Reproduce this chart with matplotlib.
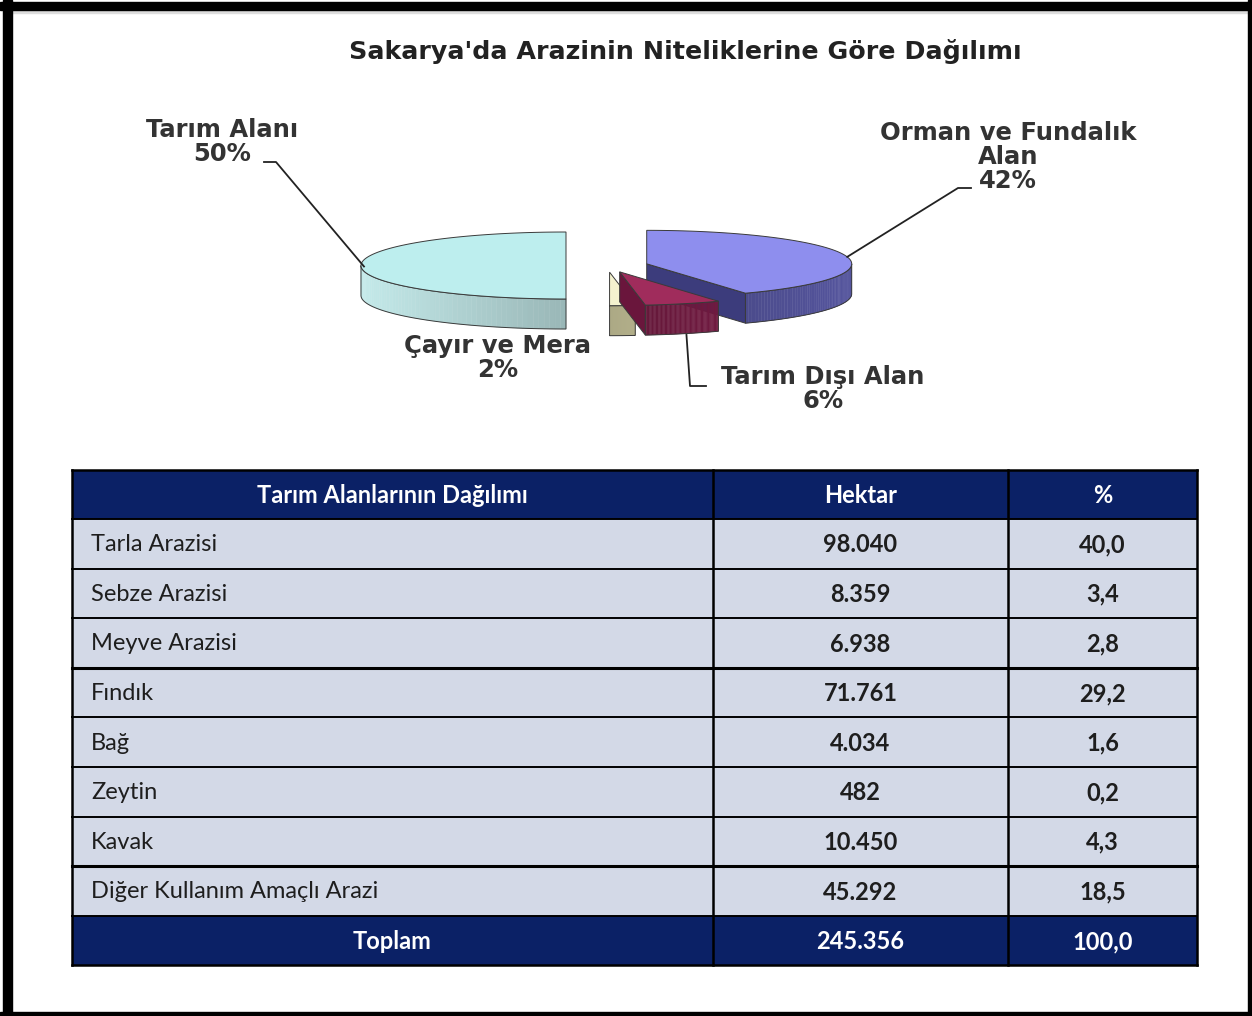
import numpy as np
import matplotlib
matplotlib.use("Agg")
import matplotlib.pyplot as plt
from matplotlib.patches import Polygon, Rectangle

# ---------------- data ----------------
title = "Sakarya'da Arazinin Niteliklerine Göre Dağılımı"
pie_labels = ["Orman ve Fundalık\nAlan", "Tarım Dışı Alan", "Çayır ve Mera", "Tarım Alanı"]
pie_values = [42, 6, 2, 50]

table_header = ["Tarım Alanlarının Dağılımı", "Hektar", "%"]
categories = ["Tarla Arazisi", "Sebze Arazisi", "Meyve Arazisi", "Fındık", "Bağ",
              "Zeytin", "Kavak", "Diğer Kullanım Amaçlı Arazi"]
hectares = [98040, 8359, 6938, 71761, 4034, 482, 10450, 45292]
percents = [40.0, 3.4, 2.8, 29.2, 1.6, 0.2, 4.3, 18.5]
total_label = "Toplam"
total_hectare = 245356
total_percent = 100.0

# ---------------- styles ----------------
top_colors = ["#8e8eee", "#a02c5c", "#f4f2cf", "#bdeeee"]
side_colors = ["#55559e", "#7e1d48", "#dcd8aa", "#c4eaea"]
wall_colors = ["#3c3c7c", "#6a163c", "#c8c498", "#9ccccc"]
edge_col = "#3a3a3a"
navy = "#0b2166"
row_fill = "#d3d9e7"

W, H = 1252, 1016
fig = plt.figure(figsize=(W / 100, H / 100), dpi=100)
ax = fig.add_axes([0, 0, 1, 1])
ax.set_xlim(0, W)
ax.set_ylim(H, 0)
ax.axis("off")

# outer black frame
ax.add_patch(Rectangle((0, 2), W, 8, color="black", zorder=10))
ax.add_patch(Rectangle((3, 0), 9, H, color="black", zorder=10))
ax.add_patch(Rectangle((1248, 0), 4, H, color="black", zorder=10))
ax.add_patch(Rectangle((0, 1012), W, 4, color="black", zorder=10))
ax.add_patch(Rectangle((12, 10), 1236, 3, color="#dddddd", zorder=9))

# title
ax.text(685, 52, title, ha="center", va="center", fontsize=18.3,
        fontweight="bold", color="#222222", family="DejaVu Sans")

# ---------------- 3D pie ----------------
A, B, D = 205, 33.5, 30      # semi-axes and depth (px)
CX, CY = 607, 265.5          # pie centre
E = 0.2                      # explode fraction


def pt(cx, cy, th):
    t = np.radians(th)
    return cx + A * np.cos(t), cy - B * np.sin(t)


def shade(col, f):
    c = np.array(matplotlib.colors.to_rgb(col))
    return tuple(np.clip(c * f, 0, 1))


slices = []
start = 90.0
for i, v in enumerate(pie_values):
    hi = start
    lo = start - v * 3.6
    start = lo
    mid = np.radians((hi + lo) / 2)
    cx = CX + E * A * np.cos(mid)
    cy = CY - E * B * np.sin(mid)
    slices.append((i, lo, hi, cx, cy))

draw_order = [3, 0, 2, 1]
geom = {}
for i in draw_order:
    _, lo, hi, cx, cy = slices[i]
    geom[i] = (lo, hi, cx, cy)
    z = 2 + draw_order.index(i)
    # radial walls
    for th, normal in ((lo, lo - 90), (hi, hi + 90)):
        if np.sin(np.radians(normal)) < -1e-3:
            x1, y1 = pt(cx, cy, th)
            poly = [(cx, cy), (x1, y1), (x1, y1 + D), (cx, cy + D)]
            ax.add_patch(Polygon(poly, closed=True, facecolor=wall_colors[i],
                                 edgecolor=edge_col, lw=0.7, zorder=z))
    # outer wall (front-facing part)
    for k in (-1, 0, 1):
        a0 = max(lo, -180 + 360 * k)
        a1 = min(hi, 0 + 360 * k)
        if a1 - a0 > 0.01:
            ths = np.linspace(a0, a1, 60)
            for t0, t1 in zip(ths[:-1], ths[1:]):
                tm = np.radians((t0 + t1) / 2)
                f = 0.78 + 0.22 * abs(np.cos(tm))
                p0 = pt(cx, cy, t0)
                p1 = pt(cx, cy, t1)
                quad = [p0, p1, (p1[0], p1[1] + D), (p0[0], p0[1] + D)]
                ax.add_patch(Polygon(quad, closed=True, facecolor=shade(side_colors[i], f),
                                     edgecolor=shade(side_colors[i], f), lw=0.3, zorder=z))
            xs = [pt(cx, cy, t)[0] for t in ths]
            ys = [pt(cx, cy, t)[1] for t in ths]
            outline = list(zip(xs, ys)) + list(zip(xs[::-1], [y + D for y in ys[::-1]]))
            ax.add_patch(Polygon(outline, closed=True, fill=False,
                                 edgecolor=edge_col, lw=0.7, zorder=z))
    # top face
    ths = np.linspace(lo, hi, 120)
    poly = [(cx, cy)] + [pt(cx, cy, t) for t in ths]
    ax.add_patch(Polygon(poly, closed=True, facecolor=top_colors[i],
                         edgecolor=edge_col, lw=0.7, zorder=z + 0.5))

lab_kw = dict(ha="center", va="center", fontsize=17.5, fontweight="bold",
              color="#333333", family="DejaVu Sans", linespacing=0.98)
pct = [f"{v}%" for v in pie_values]

# Tarım Alanı
lo, hi, cx, cy = geom[3]
ax.text(222, 142, f"{pie_labels[3]}\n{pct[3]}", **lab_kw)
ex, ey = pt(cx, cy, 180)
ax.plot([264, 276, ex + 3, ], [162, 162, ey + 1], color="#222222", lw=1.3, zorder=20)

# Orman
lo, hi, cx, cy = geom[0]
ax.text(1008, 157, f"{pie_labels[0]}\n{pct[0]}", **lab_kw)
ex, ey = pt(cx, cy, 12)
ax.plot([971, 958, ex], [188, 188, ey], color="#222222", lw=1.3, zorder=20)

# Tarım Dışı
lo, hi, cx, cy = geom[1]
ax.text(823, 389, f"{pie_labels[1]}\n{pct[1]}", **lab_kw)
ex, ey = pt(cx, cy, -68)
ax.plot([ex - 10, 690, 706], [ey + D + 2, 386, 386], color="#222222", lw=1.3, zorder=20)

# Çayır
ax.text(498, 358, f"{pie_labels[2]}\n{pct[2]}", **lab_kw)

# ---------------- table ----------------
col_edges = [72, 713, 1008, 1197]
top = 470
header_h = 49
row_h = 49.6
tfont = "Lato"
fs = 17


def fmt_int(v):
    return f"{v:,}".replace(",", ".")


def fmt_pct(v):
    return f"{v:.1f}".replace(".", ",")


# header
ax.add_patch(Rectangle((col_edges[0], top), col_edges[-1] - col_edges[0], header_h,
                       facecolor=navy, edgecolor="none", zorder=3))
for j, h in enumerate(table_header):
    xc = (col_edges[j] + col_edges[j + 1]) / 2
    ax.text(xc, top + header_h / 2 + 1, h, ha="center", va="center", fontsize=fs,
            fontweight="bold", color="white", family=tfont, zorder=5)

y0 = top + header_h
for r, (c, hv, pv) in enumerate(zip(categories, hectares, percents)):
    y = y0 + r * row_h
    ax.add_patch(Rectangle((col_edges[0], y), col_edges[-1] - col_edges[0], row_h,
                           facecolor=row_fill, edgecolor="none", zorder=3))
    yc = y + row_h / 2 + 1
    ax.text(col_edges[0] + 19, yc, c, ha="left", va="center", fontsize=fs,
            color="#1e1e1e", family=tfont, zorder=5)
    ax.text((col_edges[1] + col_edges[2]) / 2, yc, fmt_int(hv), ha="center", va="center",
            fontsize=fs, fontweight="bold", color="#1e1e1e", family=tfont, zorder=5)
    ax.text((col_edges[2] + col_edges[3]) / 2, yc, fmt_pct(pv), ha="center", va="center",
            fontsize=fs, fontweight="bold", color="#1e1e1e", family=tfont, zorder=5)

yt = y0 + len(categories) * row_h
ax.add_patch(Rectangle((col_edges[0], yt), col_edges[-1] - col_edges[0], row_h,
                       facecolor=navy, edgecolor="none", zorder=3))
for j, s in enumerate([total_label, fmt_int(total_hectare), fmt_pct(total_percent)]):
    xc = (col_edges[j] + col_edges[j + 1]) / 2
    ax.text(xc, yt + row_h / 2 + 1, s, ha="center", va="center", fontsize=fs,
            fontweight="bold", color="white", family=tfont, zorder=5)

bottom = yt + row_h
# horizontal lines
for r in range(len(categories) + 1):
    y = y0 + r * row_h
    lw = 2.2 if r in (3, 7) else 1.4
    ax.plot([col_edges[0], col_edges[-1]], [y, y], color="black", lw=lw, zorder=6)
# vertical lines
for x in col_edges:
    ax.plot([x, x], [top, bottom], color="black", lw=1.8, zorder=6)
ax.plot([col_edges[0], col_edges[-1]], [top, top], color="black", lw=1.8, zorder=6)
ax.plot([col_edges[0], col_edges[-1]], [bottom, bottom], color="black", lw=1.8, zorder=6)

fig.savefig("out.png", dpi=100, facecolor="white")
